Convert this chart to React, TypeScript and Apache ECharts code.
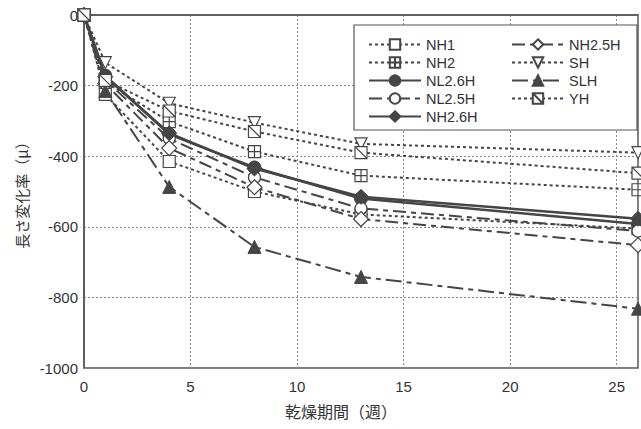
import React, { useEffect, useRef } from 'react';
import * as echarts from 'echarts';

const weeks = [0, 1, 4, 8, 13, 26];
const seriesNames = ['NH1', 'NH2', 'NL2.6H', 'NL2.5H', 'NH2.6H', 'NH2.5H', 'SH', 'SLH', 'YH'];
const NH1 = [0, -225, -415, -500, -565, -605];
const NH2 = [0, -190, -302, -387, -455, -495];
const NL26H = [0, -172, -338, -432, -520, -592];
const NL25H = [0, -185, -350, -460, -548, -612];
const NH26H = [0, -175, -335, -435, -515, -577];
const NH25H = [0, -195, -377, -488, -578, -652];
const SH = [0, -135, -250, -305, -365, -390];
const SLH = [0, -215, -487, -657, -742, -832];
const YH = [0, -185, -272, -330, -390, -448];
const xTicks = [0, 5, 10, 15, 20, 25];

const INK = '#454545';
const SQ_CROSS = 'path://M0,0H10V10H0ZM5,0V10M0,5H10';
const SQ_DIAG = 'path://M0,0H10V10H0ZM0,0L10,10';
const TRI_DOWN = 'path://M0,0L10,0L5,9Z';

const DOT = [3, 3];
const LONG_SHORT = [13, 5, 5, 5];

function mk(name: string, vals: number[], symbol: string, filled: boolean, dash: any, width: number, size = 12) {
  return {
    name,
    type: 'line',
    data: weeks.map((w, i) => [w, vals[i]]),
    symbol,
    symbolSize: size,
    showAllSymbol: true,
    lineStyle: { color: INK, width, type: dash },
    itemStyle: filled
      ? { color: INK, borderColor: INK, borderWidth: 1 }
      : { color: '#ffffff', borderColor: INK, borderWidth: 1.2 },
    emphasis: { disabled: true },
  };
}

export default function App() {
  const ref = useRef<HTMLDivElement>(null);
  useEffect(() => {
    document.body.style.margin = '0';
    const chart = echarts.init(ref.current!, null, { renderer: 'svg' });
    const font = "'Liberation Sans', Arial, sans-serif";
    const legendCommon = {
      orient: 'vertical',
      top: 32,
      itemWidth: 52,
      itemHeight: 13,
      itemGap: 3,
      textStyle: { fontSize: 14.5, color: '#333', fontFamily: font, lineHeight: 15 },
      selectedMode: false,
      z: 5,
    };
    chart.setOption({
      animation: false,
      backgroundColor: '#ffffff',
      grid: { left: 84, right: 3, top: 15, bottom: 61, show: true, borderColor: '#555', borderWidth: 1.5, backgroundColor: 'transparent' },
      xAxis: {
        type: 'value',
        min: 0,
        max: 26,
        interval: 5,
        axisLine: { show: true, lineStyle: { color: '#555', width: 1.5 } },
        axisTick: { show: false },
        splitLine: { show: true, lineStyle: { color: '#888', type: [2, 2], width: 1 } },
        axisLabel: {
          fontSize: 15,
          color: '#333',
          fontFamily: font,
          margin: 11,
          formatter: (v: number) => (xTicks.includes(v) ? String(v) : ''),
        },
        name: '乾燥期間（週）',
        nameLocation: 'middle',
        nameGap: 35,
        nameTextStyle: { fontSize: 16, color: '#333', fontFamily: "'Noto Sans CJK JP', sans-serif", padding: [0, 40, 0, 0] },
      },
      yAxis: {
        type: 'value',
        min: -1000,
        max: 0,
        interval: 200,
        axisLine: { show: true, lineStyle: { color: '#555', width: 1.5 } },
        axisTick: { show: false },
        splitLine: { show: true, lineStyle: { color: '#888', type: [2, 2], width: 1 } },
        axisLabel: { fontSize: 15, color: '#333', fontFamily: font, margin: 6, formatter: (v: number) => String(v) },
        name: '長さ変化率（μ）',
        nameLocation: 'middle',
        nameGap: 52,
        nameTextStyle: { fontSize: 15, color: '#333', fontFamily: "'Noto Sans CJK JP', sans-serif" },
      },
      legend: [
        { ...legendCommon, left: 363, data: seriesNames.slice(0, 5) },
        { ...legendCommon, left: 506, data: seriesNames.slice(5) },
      ],
      graphic: [
        {
          type: 'rect',
          shape: { x: 354, y: 25, width: 283, height: 105 },
          style: { fill: '#ffffff', stroke: '#555', lineWidth: 1.2 },
          z: 4,
        },
      ],
      series: [
        mk('NH1', NH1, 'rect', false, DOT, 2),
        mk('NH2', NH2, SQ_CROSS, false, DOT, 2),
        mk('NL2.6H', NL26H, 'circle', true, 'solid', 2.5, 13),
        mk('NL2.5H', NL25H, 'circle', false, LONG_SHORT, 2),
        mk('NH2.6H', NH26H, 'diamond', true, 'solid', 2.5, 15),
        mk('NH2.5H', NH25H, 'diamond', false, LONG_SHORT, 2, 15),
        mk('SH', SH, TRI_DOWN, false, DOT, 2),
        mk('SLH', SLH, 'triangle', true, [16, 5, 5, 5], 2, 13),
        mk('YH', YH, SQ_DIAG, false, DOT, 2),
      ],
    });
    return () => chart.dispose();
  }, []);
  return <div ref={ref} style={{ width: 641, height: 429 }} />;
}
